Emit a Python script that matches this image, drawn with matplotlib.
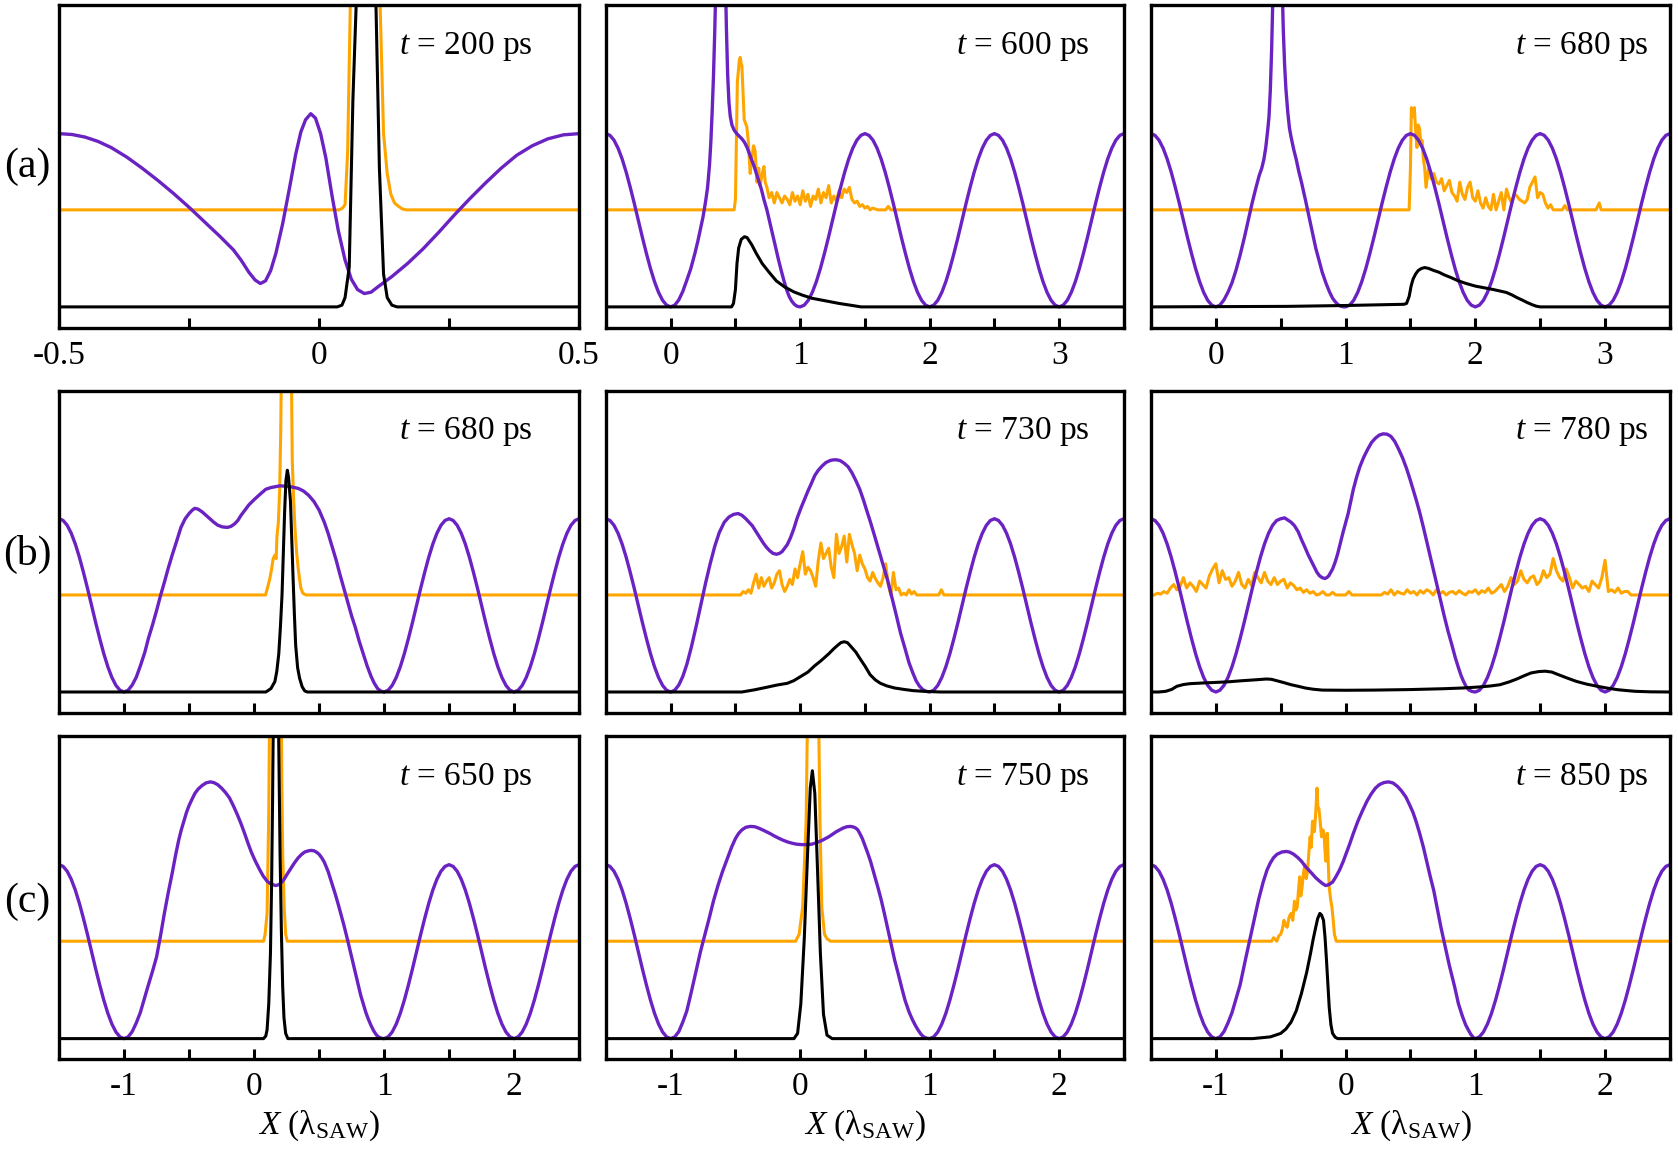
import numpy as np
import matplotlib
matplotlib.use("Agg")
import matplotlib.pyplot as plt

plt.rcParams.update({
    "font.family": "Liberation Serif",
    "mathtext.fontset": "custom",
    "mathtext.rm": "Liberation Serif",
    "mathtext.it": "Liberation Serif:italic",
    "mathtext.bf": "Liberation Serif:bold",
    "axes.unicode_minus": False,
})

PURPLE = "#6a22c2"
ORANGE = "#ffa500"

# ---------------- data (x in units of lambda_SAW, y in arbitrary units) -------------
saw_down = [1.0, 0.99, 0.962, 0.916, 0.854, 0.778, 0.691, 0.598, 0.5,
            0.402, 0.309, 0.222, 0.146, 0.084, 0.038, 0.01, 0.0]
saw_up = [0.01, 0.038, 0.084, 0.146, 0.222, 0.309, 0.402, 0.5,
          0.598, 0.691, 0.778, 0.854, 0.916, 0.962, 0.99, 1.0]
saw_down_tail = [0.99, 0.962, 0.916, 0.854, 0.778, 0.691, 0.598, 0.5,
                 0.402, 0.309, 0.222, 0.146, 0.084, 0.038, 0.01, 0.0]
saw_tail_long = [0.0] + saw_up + saw_down_tail + saw_up + saw_down_tail + saw_up      # 1.0 -> 3.5
saw_tail_short = [0.0] + saw_up + saw_down_tail + saw_up                              # 1.0 -> 2.5
saw_down_up = saw_down + saw_up                                                       # max -> min -> max

# ---- (a) t = 200 ps
pot_a1 = [(-0.5, 1.0), (-0.475, 0.995), (-0.45, 0.98), (-0.425, 0.955), (-0.40, 0.92), (-0.37, 0.865),
          (-0.34, 0.80), (-0.31, 0.73), (-0.28, 0.655), (-0.25, 0.575), (-0.22, 0.49), (-0.19, 0.405),
          (-0.165, 0.33), (-0.15, 0.27), (-0.135, 0.20), (-0.123, 0.155), (-0.113, 0.135), (-0.103, 0.15),
          (-0.093, 0.21), (-0.083, 0.31), (-0.07, 0.48), (-0.056, 0.70), (-0.045, 0.88), (-0.035, 1.01),
          (-0.026, 1.08), (-0.016, 1.115), (-0.007, 1.09), (0.003, 1.0), (0.013, 0.86), (0.025, 0.64),
          (0.037, 0.44), (0.05, 0.27), (0.062, 0.16), (0.074, 0.10), (0.087, 0.077), (0.10, 0.085),
          (0.115, 0.12), (0.14, 0.175), (0.17, 0.25), (0.20, 0.335), (0.23, 0.43), (0.26, 0.53), (0.29, 0.625),
          (0.32, 0.715), (0.35, 0.80), (0.38, 0.875), (0.41, 0.93), (0.44, 0.97), (0.47, 0.993), (0.5, 1.0)]
dens_a1 = [(-0.5, 0), (0.035, 0), (0.044, 0.01), (0.050, 0.054), (0.058, 0.23), (0.065, 1.19), (0.072, 1.8),
           (0.08, 2.6), (0.09, 2.9), (0.10, 2.6), (0.109, 1.8), (0.116, 0.8), (0.124, 0.19), (0.131, 0.054),
           (0.14, 0.01), (0.15, 0), (0.5, 0)]
exc_a1 = [(-0.5, 0.56), (0.039, 0.56), (0.045, 0.57), (0.050, 0.59), (0.055, 0.90), (0.061, 1.9), (0.09, 3.0),
          (0.116, 1.9), (0.124, 1.0), (0.131, 0.77), (0.138, 0.65), (0.145, 0.60), (0.153, 0.58),
          (0.16, 0.565), (0.168, 0.56), (0.5, 0.56)]

# ---- (a) t = 600 ps
pot_a2_mid = [(0.03125, 0.01), (0.0625, 0.04), (0.094, 0.09), (0.125, 0.155), (0.155, 0.22), (0.1875, 0.31),
              (0.21, 0.38), (0.23, 0.45), (0.25, 0.52), (0.27, 0.61), (0.285, 0.69), (0.30, 0.82), (0.31, 0.95),
              (0.32, 1.12), (0.33, 1.32), (0.34, 1.58), (0.35, 1.9), (0.36, 2.25), (0.37, 2.55), (0.38, 2.72),
              (0.39, 2.78), (0.40, 2.7), (0.41, 2.45), (0.42, 2.0), (0.43, 1.62), (0.44, 1.34), (0.45, 1.18),
              (0.46, 1.1), (0.473, 1.05), (0.49, 1.02), (0.51, 1.0), (0.53, 0.985), (0.55, 0.97), (0.57, 0.95),
              (0.59, 0.92), (0.61, 0.88), (0.625, 0.85), (0.645, 0.81), (0.666, 0.76), (0.685, 0.715),
              (0.70, 0.68), (0.72, 0.62), (0.743, 0.56), (0.765, 0.49), (0.79, 0.41), (0.81, 0.345),
              (0.83, 0.28), (0.85, 0.22), (0.875, 0.15), (0.895, 0.10), (0.915, 0.06), (0.935, 0.033),
              (0.955, 0.015), (0.975, 0.004)]
dens_a2 = [(-0.5, 0), (0.47, 0), (0.485, 0.02), (0.50, 0.10), (0.512, 0.25), (0.525, 0.34), (0.545, 0.39),
           (0.57, 0.405), (0.59, 0.40), (0.625, 0.36), (0.66, 0.31), (0.707, 0.25), (0.76, 0.20), (0.816, 0.15),
           (0.88, 0.115), (0.953, 0.086), (1.02, 0.067), (1.09, 0.05), (1.16, 0.04), (1.23, 0.03), (1.30, 0.02),
           (1.36, 0.013), (1.42, 0.006), (1.47, 0), (3.5, 0)]
exc_a2_head = [(-0.5, 0.56), (0.49, 0.56), (0.50, 0.62), (0.515, 1.30), (0.53, 1.42), (0.537, 1.44),
               (0.545, 1.40), (0.55, 1.39), (0.558, 1.25), (0.568, 1.08), (0.578, 1.06), (0.588, 1.04),
               (0.60, 0.95), (0.614, 0.77), (0.625, 0.85), (0.64, 0.93), (0.652, 0.90), (0.666, 0.72),
               (0.68, 0.80), (0.69, 0.70), (0.705, 0.76), (0.72, 0.81), (0.73, 0.72), (0.743, 0.69),
               (0.76, 0.63), (0.78, 0.66)]
exc_a2_noise = [0.60, 0.66, 0.63, 0.60, 0.64, 0.62, 0.59, 0.66, 0.61, 0.64,
                0.59, 0.67, 0.61, 0.65, 0.58, 0.64, 0.62, 0.68, 0.60, 0.66,
                0.63, 0.70, 0.60, 0.64, 0.61, 0.67, 0.63, 0.68, 0.66, 0.69,
                0.62, 0.60, 0.61, 0.58, 0.59, 0.57, 0.58, 0.56, 0.57]          # x = 0.80 ... 1.56
exc_a2_tail = [(1.60, 0.56), (1.66, 0.56), (1.68, 0.58), (1.70, 0.56), (3.5, 0.56)]

# ---- (a) t = 680 ps
pot_a3_mid = [(0.03125, 0.01), (0.0625, 0.04), (0.094, 0.085), (0.125, 0.14), (0.155, 0.21), (0.1875, 0.30),
              (0.22, 0.40), (0.25, 0.50), (0.28, 0.60), (0.31, 0.69), (0.335, 0.76), (0.354, 0.80), (0.37, 0.85),
              (0.385, 0.92), (0.40, 1.02), (0.41, 1.10), (0.42, 1.25), (0.43, 1.48), (0.44, 1.8), (0.45, 2.15),
              (0.46, 2.45), (0.47, 2.65), (0.48, 2.7), (0.49, 2.55), (0.50, 2.25), (0.51, 1.9), (0.52, 1.6),
              (0.53, 1.4), (0.54, 1.26), (0.555, 1.12), (0.568, 1.03), (0.58, 0.98), (0.60, 0.91), (0.62, 0.85),
              (0.64, 0.78), (0.66, 0.72), (0.69, 0.62), (0.71, 0.55), (0.73, 0.48), (0.75, 0.41), (0.77, 0.34),
              (0.795, 0.27), (0.82, 0.20), (0.85, 0.135), (0.877, 0.085), (0.90, 0.05), (0.92, 0.03),
              (0.94, 0.014), (0.96, 0.005), (0.98, 0.001)]
dens_a3 = [(-0.5, 0), (0.55, 0.003), (1.0, 0.008), (1.45, 0.015), (1.47, 0.02), (1.49, 0.06), (1.505, 0.12),
           (1.52, 0.16), (1.54, 0.19), (1.56, 0.21), (1.585, 0.222), (1.61, 0.227), (1.64, 0.222), (1.68, 0.21),
           (1.72, 0.20), (1.76, 0.185), (1.81, 0.17), (1.87, 0.15), (1.93, 0.135), (2.0, 0.12), (2.07, 0.11),
           (2.14, 0.10), (2.20, 0.09), (2.24, 0.083), (2.28, 0.07), (2.32, 0.054), (2.36, 0.04), (2.40, 0.025),
           (2.44, 0.012), (2.47, 0.004), (2.5, 0), (3.5, 0)]
exc_a3_head = [(-0.5, 0.56), (1.49, 0.56), (1.50, 0.80), (1.507, 1.15), (1.52, 1.10), (1.53, 1.15),
               (1.54, 1.02), (1.55, 0.92), (1.56, 1.05), (1.57, 1.03), (1.58, 0.95), (1.59, 0.96),
               (1.60, 0.85), (1.61, 0.80), (1.62, 0.69)]
exc_a3_noise = [0.80, 0.74, 0.77, 0.72, 0.71, 0.74, 0.67, 0.70, 0.73, 0.66,
                0.64, 0.61, 0.72, 0.65, 0.62, 0.69, 0.72, 0.63, 0.61, 0.67,
                0.60, 0.57, 0.63, 0.58, 0.56, 0.65, 0.56, 0.61, 0.66, 0.56,
                0.68, 0.63, 0.60, 0.65, 0.64, 0.62, 0.61, 0.60, 0.62, 0.69,
                0.72, 0.75, 0.63, 0.66, 0.65, 0.60, 0.57, 0.59, 0.56]          # x = 1.64 ... 2.60
exc_a3_tail = [(2.67, 0.56), (2.69, 0.585), (2.71, 0.56), (2.93, 0.56), (2.955, 0.60), (2.97, 0.56),
               (3.5, 0.56)]

# ---- (b) t = 680 ps
pot_b1_mid = [(-0.96875, 0.01), (-0.9375, 0.04), (-0.90625, 0.085), (-0.875, 0.15), (-0.84, 0.23),
              (-0.8125, 0.31), (-0.78, 0.39), (-0.75, 0.47), (-0.72, 0.555), (-0.6875, 0.64), (-0.66, 0.715),
              (-0.63, 0.79), (-0.60, 0.86), (-0.5625, 0.95), (-0.53, 1.0), (-0.5, 1.03), (-0.475, 1.05),
              (-0.456, 1.06), (-0.43, 1.055), (-0.40, 1.04), (-0.37, 1.02), (-0.34, 1.0), (-0.31, 0.98),
              (-0.28, 0.963), (-0.245, 0.953), (-0.206, 0.95), (-0.18, 0.955), (-0.15, 0.97), (-0.125, 0.99),
              (-0.10, 1.02), (-0.07, 1.05), (-0.04, 1.08), (0.0, 1.11), (0.044, 1.14), (0.09, 1.17),
              (0.13, 1.18), (0.2, 1.19), (0.28, 1.185), (0.34, 1.175), (0.38, 1.16), (0.42, 1.135),
              (0.46, 1.10), (0.50, 1.05), (0.54, 0.98), (0.57, 0.915), (0.6, 0.84), (0.63, 0.765),
              (0.66, 0.68), (0.69, 0.60), (0.72, 0.52), (0.75, 0.44), (0.78, 0.37), (0.81, 0.29),
              (0.84, 0.22), (0.87, 0.15), (0.9, 0.09), (0.925, 0.05), (0.95, 0.02), (0.975, 0.005)]
dens_b1 = [(-1.5, 0), (0.09, 0), (0.103, 0.006), (0.13, 0.02), (0.16, 0.06), (0.175, 0.12), (0.19, 0.22),
           (0.203, 0.38), (0.215, 0.56), (0.225, 0.8), (0.235, 1.04), (0.245, 1.22), (0.256, 1.28),
           (0.265, 1.24), (0.28, 1.1), (0.29, 0.88), (0.30, 0.66), (0.31, 0.45), (0.32, 0.27), (0.335, 0.14),
           (0.35, 0.08), (0.37, 0.03), (0.39, 0.006), (0.41, 0), (2.5, 0)]
exc_b1 = [(-1.5, 0.56), (0.088, 0.56), (0.103, 0.60), (0.12, 0.65), (0.135, 0.71), (0.147, 0.77),
          (0.16, 0.79), (0.17, 0.77), (0.176, 0.90), (0.187, 0.98), (0.197, 1.17), (0.205, 1.5), (0.215, 2.2),
          (0.25, 3.0), (0.285, 2.0), (0.294, 1.33), (0.305, 1.1), (0.315, 0.94), (0.328, 0.80), (0.34, 0.71),
          (0.35, 0.65), (0.36, 0.60), (0.375, 0.57), (0.40, 0.56), (2.5, 0.56)]

# ---- (b) t = 730 ps
pot_b2_mid = [(-0.96875, 0.01), (-0.9375, 0.04), (-0.90625, 0.09), (-0.875, 0.16), (-0.84, 0.26),
              (-0.80, 0.39), (-0.765, 0.51), (-0.73, 0.63), (-0.695, 0.74), (-0.66, 0.84), (-0.625, 0.92),
              (-0.586, 0.98), (-0.55, 1.01), (-0.515, 1.025), (-0.48, 1.03), (-0.45, 1.02), (-0.42, 1.0),
              (-0.395, 0.98), (-0.37, 0.96), (-0.34, 0.925), (-0.31, 0.89), (-0.285, 0.86), (-0.26, 0.835),
              (-0.235, 0.815), (-0.21, 0.80), (-0.183, 0.795), (-0.16, 0.80), (-0.14, 0.81), (-0.12, 0.83),
              (-0.10, 0.85), (-0.075, 0.89), (-0.05, 0.94), (-0.025, 1.0), (0.005, 1.06), (0.035, 1.115),
              (0.06, 1.16), (0.09, 1.21), (0.113, 1.25), (0.14, 1.28), (0.17, 1.305), (0.20, 1.325),
              (0.235, 1.337), (0.26, 1.34), (0.282, 1.34), (0.31, 1.335), (0.34, 1.32), (0.37, 1.30),
              (0.40, 1.265), (0.43, 1.22), (0.46, 1.17), (0.49, 1.105), (0.515, 1.045), (0.543, 0.98),
              (0.575, 0.90), (0.61, 0.81), (0.645, 0.72), (0.677, 0.64), (0.71, 0.54), (0.74, 0.45),
              (0.775, 0.34), (0.81, 0.25), (0.84, 0.17), (0.87, 0.11), (0.895, 0.065), (0.92, 0.035),
              (0.945, 0.015), (0.97, 0.004)]
dens_b2 = [(-1.5, 0), (-0.45, 0), (-0.35, 0.013), (-0.26, 0.027), (-0.18, 0.04), (-0.10, 0.05), (-0.05, 0.065),
           (0.005, 0.09), (0.06, 0.115), (0.11, 0.15), (0.16, 0.18), (0.22, 0.22), (0.26, 0.25), (0.29, 0.27),
           (0.315, 0.285), (0.34, 0.29), (0.365, 0.285), (0.395, 0.26), (0.43, 0.23), (0.46, 0.195), (0.50, 0.15),
           (0.54, 0.10), (0.58, 0.07), (0.62, 0.05), (0.67, 0.035), (0.73, 0.023), (0.8, 0.015), (0.87, 0.008),
           (0.95, 0.004), (1.08, 0), (2.5, 0)]
exc_b2_head = [(-1.5, 0.56)]
exc_b2_noise = [0.56, 0.58, 0.57, 0.59, 0.57, 0.63, 0.68, 0.60, 0.66, 0.61,
                0.64, 0.66, 0.60, 0.63, 0.68, 0.70, 0.62, 0.58, 0.61, 0.65,
                0.62, 0.71, 0.66, 0.74, 0.81, 0.68, 0.72, 0.70, 0.66, 0.61,
                0.76, 0.86, 0.77, 0.80, 0.83, 0.72, 0.66, 0.91, 0.80, 0.84,
                0.90, 0.75, 0.91, 0.85, 0.80, 0.70, 0.79, 0.74, 0.71, 0.66,
                0.64, 0.69, 0.655, 0.63, 0.61, 0.66, 0.74, 0.62, 0.56, 0.69,
                0.59, 0.60, 0.56, 0.57, 0.56, 0.59, 0.565, 0.58, 0.56, 0.56]   # x = -0.46 ... 0.92
exc_b2_tail = [(1.07, 0.56), (1.09, 0.59), (1.11, 0.56), (2.5, 0.56)]

# ---- (b) t = 780 ps
pot_b3_mid = [(-0.47, 1.005), (-0.45, 0.995), (-0.42, 0.98), (-0.394, 0.96), (-0.365, 0.925), (-0.34, 0.88),
              (-0.31, 0.83), (-0.287, 0.79), (-0.26, 0.75), (-0.24, 0.72), (-0.22, 0.69), (-0.2, 0.67),
              (-0.18, 0.66), (-0.16, 0.655), (-0.145, 0.66), (-0.13, 0.67), (-0.115, 0.69), (-0.10, 0.71),
              (-0.08, 0.75), (-0.06, 0.80), (-0.04, 0.86), (-0.02, 0.92), (0.0, 0.975), (0.02, 1.03),
              (0.04, 1.10), (0.06, 1.17), (0.085, 1.24), (0.11, 1.30), (0.14, 1.355), (0.17, 1.40), (0.2, 1.44),
              (0.23, 1.465), (0.26, 1.483), (0.29, 1.49), (0.32, 1.488), (0.35, 1.475), (0.38, 1.445),
              (0.41, 1.40), (0.44, 1.35), (0.47, 1.29), (0.50, 1.22), (0.52, 1.17), (0.544, 1.11), (0.57, 1.04),
              (0.60, 0.95), (0.625, 0.87), (0.65, 0.79), (0.675, 0.71), (0.70, 0.63), (0.73, 0.535),
              (0.76, 0.44), (0.79, 0.35), (0.82, 0.27), (0.845, 0.20), (0.87, 0.14), (0.89, 0.095),
              (0.91, 0.06), (0.93, 0.03), (0.95, 0.012), (0.975, 0.003)]
dens_b3 = [(-1.5, 0), (-1.44, 0), (-1.386, 0.004), (-1.34, 0.015), (-1.3, 0.033), (-1.25, 0.043), (-1.2, 0.048),
           (-1.1, 0.052), (-0.98, 0.056), (-0.9, 0.059), (-0.8, 0.065), (-0.7, 0.07), (-0.61, 0.075),
           (-0.57, 0.073), (-0.53, 0.065), (-0.48, 0.055), (-0.42, 0.042), (-0.36, 0.032), (-0.31, 0.023),
           (-0.25, 0.016), (-0.18, 0.011), (0.0, 0.01), (0.22, 0.011), (0.5, 0.014), (0.76, 0.019), (0.9, 0.023),
           (1.03, 0.029), (1.12, 0.035), (1.19, 0.042), (1.26, 0.058), (1.32, 0.075), (1.38, 0.095), (1.43, 0.11),
           (1.49, 0.118), (1.54, 0.12), (1.59, 0.115), (1.64, 0.10), (1.71, 0.08), (1.78, 0.061), (1.86, 0.045),
           (1.94, 0.033), (2.02, 0.022), (2.1, 0.013), (2.17, 0.008), (2.23, 0.004), (2.35, 0.001), (2.5, 0)]
exc_b3_noise = [0.56, 0.56, 0.57, 0.565, 0.58, 0.57, 0.60, 0.62, 0.59, 0.61,
                0.66, 0.60, 0.63, 0.61, 0.58, 0.64, 0.62, 0.60, 0.67, 0.71,
                0.74, 0.63, 0.70, 0.65, 0.66, 0.61, 0.64, 0.69, 0.62, 0.60,
                0.65, 0.615, 0.69, 0.66, 0.63, 0.69, 0.64, 0.62, 0.66, 0.62,
                0.64, 0.65, 0.60, 0.63, 0.615, 0.59, 0.60, 0.575, 0.59, 0.57,
                0.58, 0.56, 0.565, 0.58, 0.56, 0.56, 0.575, 0.56, 0.56, 0.56,
                0.56, 0.58, 0.56, 0.56, 0.56, 0.56, 0.56, 0.56, 0.56, 0.56,
                0.56, 0.56, 0.575, 0.565, 0.59, 0.56, 0.58, 0.57, 0.565, 0.59,
                0.57, 0.58, 0.56, 0.585, 0.57, 0.59, 0.58, 0.56, 0.59, 0.565,
                0.58, 0.56, 0.575, 0.58, 0.565, 0.585, 0.57, 0.56, 0.58, 0.575,
                0.59, 0.565, 0.585, 0.575, 0.60, 0.57, 0.58, 0.60, 0.62, 0.58,
                0.61, 0.66, 0.62, 0.64, 0.70, 0.65, 0.63, 0.66, 0.67, 0.62,
                0.64, 0.70, 0.66, 0.68, 0.77, 0.70, 0.66, 0.64, 0.71, 0.66,
                0.60, 0.64, 0.62, 0.60, 0.61, 0.58, 0.64, 0.62, 0.60, 0.66,
                0.76, 0.58, 0.59, 0.575, 0.60, 0.57, 0.58, 0.58, 0.56, 0.56,
                0.56, 0.56, 0.56, 0.56, 0.56, 0.56, 0.56, 0.56, 0.56, 0.56, 0.56]   # x = -1.5 ... 2.5

# ---- (c) t = 650 ps
pot_c1_mid = [(-0.96875, 0.01), (-0.9375, 0.04), (-0.90625, 0.09), (-0.875, 0.15), (-0.84, 0.24),
              (-0.8125, 0.31), (-0.78, 0.39), (-0.75, 0.47), (-0.72, 0.59), (-0.69, 0.72), (-0.66, 0.84),
              (-0.63, 0.95), (-0.605, 1.05), (-0.58, 1.14), (-0.56, 1.20), (-0.54, 1.25), (-0.52, 1.30),
              (-0.50, 1.34), (-0.475, 1.38), (-0.455, 1.41), (-0.43, 1.435), (-0.40, 1.455), (-0.37, 1.47),
              (-0.337, 1.476), (-0.31, 1.472), (-0.28, 1.46), (-0.25, 1.44), (-0.22, 1.415), (-0.19, 1.385),
              (-0.16, 1.34), (-0.13, 1.29), (-0.10, 1.235), (-0.073, 1.18), (-0.045, 1.12), (-0.02, 1.07),
              (0.01, 1.02), (0.044, 0.97), (0.07, 0.935), (0.10, 0.905), (0.13, 0.888), (0.167, 0.88),
              (0.19, 0.885), (0.21, 0.897), (0.23, 0.915), (0.25, 0.94), (0.28, 0.975), (0.31, 1.01),
              (0.34, 1.04), (0.367, 1.06), (0.39, 1.073), (0.42, 1.08), (0.44, 1.082), (0.46, 1.08),
              (0.48, 1.072), (0.50, 1.06), (0.52, 1.04), (0.54, 1.015), (0.57, 0.96), (0.60, 0.89),
              (0.625, 0.83), (0.65, 0.765), (0.67, 0.71), (0.69, 0.655), (0.72, 0.565), (0.75, 0.47),
              (0.775, 0.39), (0.80, 0.31), (0.82, 0.25), (0.84, 0.20), (0.86, 0.15), (0.88, 0.11), (0.90, 0.075),
              (0.92, 0.045), (0.94, 0.022), (0.96, 0.008), (0.98, 0.002)]
dens_c1 = [(-1.5, 0), (0.073, 0), (0.09, 0.015), (0.10, 0.05), (0.113, 0.2), (0.126, 0.49), (0.135, 0.9),
           (0.142, 1.35), (0.15, 2.0), (0.16, 2.6), (0.167, 2.8), (0.175, 2.6), (0.185, 2.0), (0.193, 1.5),
           (0.2, 1.06), (0.21, 0.62), (0.22, 0.30), (0.23, 0.12), (0.243, 0.03), (0.26, 0), (2.5, 0)]
exc_c1 = [(-1.5, 0.56), (0.073, 0.56), (0.085, 0.6), (0.10, 0.72), (0.113, 1.3), (0.126, 2.5), (0.16, 3.0),
          (0.205, 2.5), (0.213, 1.5), (0.22, 1.06), (0.232, 0.75), (0.243, 0.60), (0.255, 0.56), (2.5, 0.56)]

# ---- (c) t = 750 ps
pot_c2_mid = [(-0.96875, 0.01), (-0.9375, 0.04), (-0.90625, 0.095), (-0.875, 0.16), (-0.84, 0.27),
              (-0.80, 0.40), (-0.77, 0.50), (-0.735, 0.60), (-0.70, 0.70), (-0.67, 0.79), (-0.635, 0.88),
              (-0.60, 0.96), (-0.565, 1.03), (-0.53, 1.10), (-0.50, 1.15), (-0.475, 1.18), (-0.45, 1.20),
              (-0.42, 1.215), (-0.384, 1.22), (-0.35, 1.218), (-0.32, 1.21), (-0.29, 1.20), (-0.263, 1.19),
              (-0.23, 1.178), (-0.2, 1.165), (-0.165, 1.152), (-0.13, 1.14), (-0.095, 1.13), (-0.06, 1.123),
              (-0.03, 1.118), (0.0, 1.116), (0.03, 1.115), (0.059, 1.115), (0.09, 1.118), (0.12, 1.125),
              (0.145, 1.132), (0.17, 1.14), (0.195, 1.15), (0.22, 1.16), (0.25, 1.175), (0.28, 1.19),
              (0.305, 1.20), (0.33, 1.21), (0.36, 1.218), (0.387, 1.22), (0.41, 1.217), (0.43, 1.21),
              (0.445, 1.20), (0.46, 1.18), (0.48, 1.15), (0.50, 1.11), (0.52, 1.07), (0.543, 1.02),
              (0.57, 0.95), (0.60, 0.87), (0.625, 0.80), (0.65, 0.72), (0.675, 0.635), (0.70, 0.55),
              (0.73, 0.45), (0.758, 0.37), (0.785, 0.29), (0.81, 0.22), (0.84, 0.155), (0.866, 0.11),
              (0.89, 0.075), (0.91, 0.05), (0.93, 0.028), (0.95, 0.012), (0.975, 0.003)]
dens_c2 = [(-1.5, 0), (-0.048, 0), (-0.02, 0.03), (0.005, 0.2), (0.032, 0.58), (0.059, 1.10), (0.078, 1.44),
           (0.094, 1.54), (0.113, 1.41), (0.134, 0.97), (0.156, 0.49), (0.18, 0.14), (0.207, 0.02),
           (0.247, 0), (2.5, 0)]
exc_c2 = [(-1.5, 0.56), (-0.035, 0.56), (-0.008, 0.60), (0.019, 0.755), (0.046, 1.25), (0.059, 2.0),
          (0.10, 3.0), (0.14, 2.0), (0.153, 1.25), (0.167, 0.755), (0.188, 0.60), (0.207, 0.574),
          (0.234, 0.56), (2.5, 0.56)]

# ---- (c) t = 850 ps
pot_c3_mid = [(-0.96875, 0.01), (-0.9375, 0.04), (-0.90625, 0.09), (-0.875, 0.15), (-0.84, 0.24),
              (-0.8125, 0.31), (-0.79, 0.39), (-0.77, 0.46), (-0.735, 0.58), (-0.70, 0.70), (-0.67, 0.80),
              (-0.635, 0.90), (-0.605, 0.97), (-0.58, 1.01), (-0.555, 1.04), (-0.528, 1.06), (-0.49, 1.073),
              (-0.456, 1.076), (-0.43, 1.072), (-0.40, 1.06), (-0.367, 1.04), (-0.34, 1.02), (-0.31, 0.99),
              (-0.285, 0.97), (-0.26, 0.95), (-0.23, 0.925), (-0.2, 0.905), (-0.175, 0.89), (-0.153, 0.88),
              (-0.13, 0.885), (-0.1, 0.90), (-0.075, 0.93), (-0.046, 0.97), (-0.02, 1.015), (0.0, 1.055),
              (0.03, 1.115), (0.06, 1.18), (0.095, 1.25), (0.13, 1.31), (0.165, 1.365), (0.196, 1.405),
              (0.23, 1.44), (0.26, 1.46), (0.295, 1.472), (0.33, 1.476), (0.365, 1.47), (0.40, 1.45),
              (0.43, 1.425), (0.464, 1.39), (0.49, 1.35), (0.52, 1.30), (0.545, 1.245), (0.571, 1.18),
              (0.60, 1.10), (0.625, 1.02), (0.65, 0.94), (0.68, 0.85), (0.705, 0.755), (0.735, 0.64),
              (0.77, 0.52), (0.80, 0.42), (0.84, 0.30), (0.87, 0.20), (0.90, 0.13), (0.925, 0.08),
              (0.946, 0.05), (0.965, 0.025), (0.985, 0.006)]
dens_c3 = [(-1.5, 0), (-0.716, 0), (-0.58, 0.01), (-0.50, 0.03), (-0.46, 0.055), (-0.42, 0.095), (-0.38, 0.16),
           (-0.34, 0.26), (-0.30, 0.38), (-0.27, 0.49), (-0.25, 0.57), (-0.23, 0.64), (-0.215, 0.69),
           (-0.198, 0.72), (-0.185, 0.71), (-0.17, 0.68), (-0.158, 0.58), (-0.147, 0.45), (-0.136, 0.31),
           (-0.126, 0.18), (-0.113, 0.08), (-0.10, 0.03), (-0.08, 0.008), (-0.06, 0), (2.5, 0)]
exc_c3 = [(-1.5, 0.56), (-0.57, 0.56), (-0.555, 0.58), (-0.53, 0.56), (-0.515, 0.59), (-0.50, 0.60),
          (-0.487, 0.63), (-0.475, 0.68), (-0.462, 0.65), (-0.45, 0.64), (-0.435, 0.70), (-0.42, 0.72),
          (-0.407, 0.68), (-0.394, 0.79), (-0.383, 0.74), (-0.373, 0.755), (-0.363, 0.85), (-0.354, 0.93),
          (-0.345, 0.82), (-0.335, 0.87), (-0.325, 0.95), (-0.314, 1.0), (-0.303, 0.92), (-0.292, 0.97),
          (-0.282, 1.08), (-0.273, 1.16), (-0.264, 1.10), (-0.255, 1.25), (-0.247, 1.22), (-0.24, 1.19),
          (-0.23, 1.30), (-0.22, 1.44), (-0.213, 1.32), (-0.206, 1.325), (-0.196, 1.25), (-0.185, 1.16),
          (-0.175, 1.20), (-0.166, 1.18), (-0.16, 1.10), (-0.153, 1.02), (-0.146, 1.12), (-0.14, 1.18),
          (-0.133, 1.0), (-0.126, 0.87), (-0.115, 0.80), (-0.105, 0.755), (-0.095, 0.68), (-0.086, 0.60),
          (-0.072, 0.56), (2.5, 0.56)]

times = ["200", "600", "680", "680", "730", "780", "650", "750", "850"]
row_labels = ["(a)", "(b)", "(c)"]


# ---------------- helpers ----------------
def build(*segs):
    """Concatenate pieces: either a list of (x, y) points or (x0, x1, values) sampled uniformly."""
    xs, ys = [], []
    for s in segs:
        if isinstance(s, tuple) and len(s) == 3 and np.isscalar(s[0]):
            x0, x1, v = s
            xs.extend(np.linspace(x0, x1, len(v)))
            ys.extend(v)
        else:
            for px, py in s:
                xs.append(px)
                ys.append(py)
    return np.array(xs, float), np.array(ys, float)


curves = [
    # (a)
    (build(pot_a1), build(dens_a1), build(exc_a1)),
    (build((-0.5, 0.0, saw_down), pot_a2_mid, (1.0, 3.5, saw_tail_long)),
     build(dens_a2),
     build(exc_a2_head, (0.80, 1.56, exc_a2_noise), exc_a2_tail)),
    (build((-0.5, 0.0, saw_down), pot_a3_mid, (1.0, 3.5, saw_tail_long)),
     build(dens_a3),
     build(exc_a3_head, (1.64, 2.60, exc_a3_noise), exc_a3_tail)),
    # (b)
    (build((-1.5, -1.0, saw_down), pot_b1_mid, (1.0, 2.5, saw_tail_short)),
     build(dens_b1), build(exc_b1)),
    (build((-1.5, -1.0, saw_down), pot_b2_mid, (1.0, 2.5, saw_tail_short)),
     build(dens_b2),
     build(exc_b2_head, (-0.46, 0.92, exc_b2_noise), exc_b2_tail)),
    (build((-1.5, -0.5, saw_down_up), pot_b3_mid, (1.0, 2.5, saw_tail_short)),
     build(dens_b3),
     build((-1.5, 2.5, exc_b3_noise))),
    # (c)
    (build((-1.5, -1.0, saw_down), pot_c1_mid, (1.0, 2.5, saw_tail_short)),
     build(dens_c1), build(exc_c1)),
    (build((-1.5, -1.0, saw_down), pot_c2_mid, (1.0, 2.5, saw_tail_short)),
     build(dens_c2), build(exc_c2)),
    (build((-1.5, -1.0, saw_down), pot_c3_mid, (1.0, 2.5, saw_tail_short)),
     build(dens_c3), build(exc_c3)),
]

# ---------------- figure ----------------
W, H = 1678, 1153
fig = plt.figure(figsize=(W / 100, H / 100), dpi=100)

row_bottom = [0.7158, 0.3818, 0.0811]
row_height = [0.2795, 0.2795, 0.2806]
col_left = [0.0352, 0.3611, 0.6859]
col_width = [0.3099, 0.3087, 0.3093]
text_x = [0.910, 0.933, 0.958]
FS = 24

for idx, (pot, dens, exc) in enumerate(curves):
    r, c = divmod(idx, 3)
    ax = fig.add_axes([col_left[c], row_bottom[r], col_width[c], row_height[r]])
    ax.plot(exc[0], exc[1], color=ORANGE, lw=2.2, zorder=2)
    ax.plot(pot[0], pot[1], color=PURPLE, lw=2.4, zorder=3, solid_joinstyle="round")
    ax.plot(dens[0], dens[1], color="black", lw=2.2, zorder=4, solid_joinstyle="round")
    ax.set_ylim(-0.12, 1.74)
    ax.set_yticks([])
    if r == 0 and c == 0:
        ax.set_xlim(-0.5, 0.5)
        ax.set_xticks([-0.5, -0.25, 0, 0.25, 0.5])
        ax.set_xticklabels(["-0.5", "", "0", "", "0.5"])
    elif r == 0:
        ax.set_xlim(-0.5, 3.5)
        ax.set_xticks(np.arange(-0.5, 3.51, 0.5))
        ax.set_xticklabels(["", "0", "", "1", "", "2", "", "3", ""])
    else:
        ax.set_xlim(-1.5, 2.5)
        ax.set_xticks(np.arange(-1.5, 2.51, 0.5))
        if r == 2:
            ax.set_xticklabels(["", "-1", "", "0", "", "1", "", "2", ""])
            ax.set_xlabel(r"$X$ (λ$_{\mathrm{SAW}}$)", fontsize=FS, labelpad=4)
        else:
            ax.set_xticklabels([""] * 9)
    ax.tick_params(axis="x", direction="in", length=7.5, width=2.2, labelsize=FS, pad=9,
                   top=False, bottom=True)
    ax.tick_params(axis="y", left=False, right=False)
    for sp in ax.spines.values():
        sp.set_linewidth(2.4)
        sp.set_zorder(5)
    ax.text(text_x[c], 0.849, r"$t$ = " + times[idx] + " ps", transform=ax.transAxes,
            ha="right", va="baseline", fontsize=FS)

for lab, y in zip(row_labels, [0.855, 0.5187, 0.2177]):
    fig.text(0.0165, y, lab, ha="center", va="center", fontsize=30)

fig.savefig("out.png", dpi=100)
